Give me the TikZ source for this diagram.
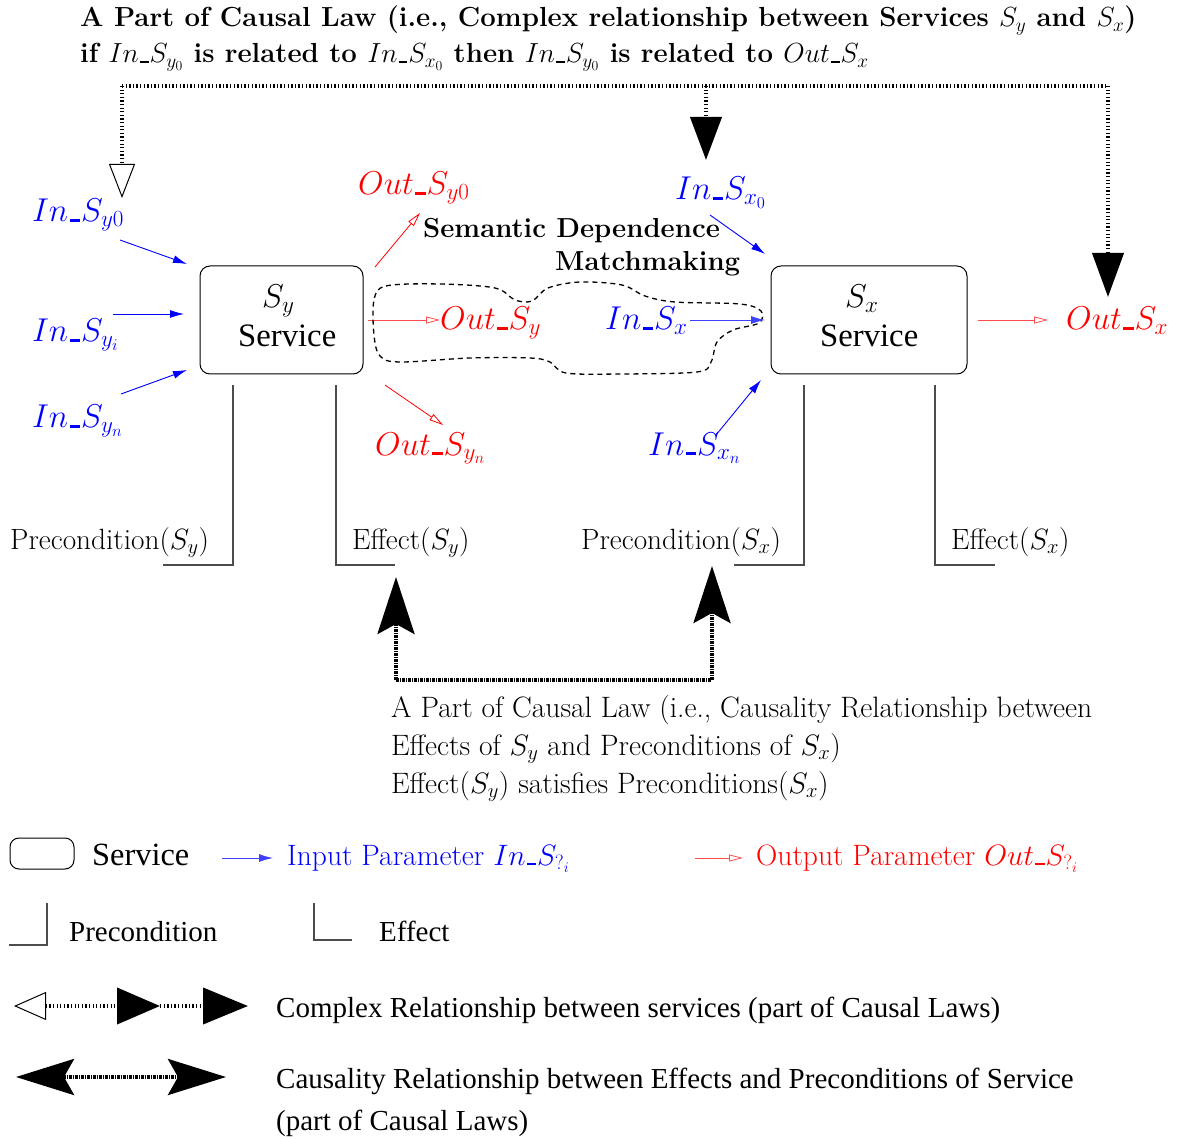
\RequirePackage{fix-cm}
\documentclass[tikz,border=0pt]{standalone}
\usepackage{fontspec}
\newfontfamily\timesf{Liberation Serif}
\usetikzlibrary{arrows.meta}
\newcommand{\setfs}[1]{\fontsize{#1}{#1}\selectfont}
\newcommand{\us}{\mbox{\kern.04em\rule{0.32em}{0.08em}\kern.03em}}
\begin{document}
\begin{tikzpicture}[x=1pt,y=-1pt,
  lbl/.style={inner sep=0pt, anchor=base west},
  inarr/.style={blue, line width=0.9pt, -{Latex[length=14pt,width=8pt]}},
  outarr/.style={red, line width=0.8pt, -{Triangle[open,length=14pt,width=7pt,line width=0.8pt]}},
  dotl/.style={line width=4pt, dash pattern=on 1.3pt off 2.3pt},
  cause/.style={line width=4pt, dash pattern=on 3pt off 1pt on 1pt off 1pt},
  pe/.style={draw=black!70, line width=1.1pt},
  svc/.style={draw, rounded corners=10pt, line width=1pt},
  opentip/.style={-{Triangle[open,length=34pt,width=26pt,line width=1pt]}},
  filltip/.style={-{Triangle[length=#1,width=31pt]}},
  stl/.style={-{Stealth[length=57pt,width=37pt,inset=10pt]}}
]
\useasboundingbox (0,0) rectangle (1178,1139);

% ---------- title ----------
\node[lbl] (title1) at (80,27) {\setfs{27.6}\bfseries A Part of Causal Law (i.e., Complex relationship between Services $S_y$ and $S_x$)};
\node[lbl] (title2) at (80,63) {\setfs{27.6}\bfseries if $In\us S_{y_0}$ is related to $In\us S_{x_0}$ then $In\us S_{y_0}$ is related to $Out\us S_x$};

% ---------- complex relationship arrows ----------
\coordinate (cl) at (122,86);
\coordinate (cm) at (706,86);
\coordinate (cr) at (1108,86);
\coordinate (clt) at (122,198);
\coordinate (cmt) at (706,160);
\coordinate (crt) at (1108,297);
\draw[dotl] (cl) -- (cr);
\draw[dotl, opentip] (cl) -- (clt);
\draw[dotl, filltip=43pt] (cm) -- (cmt);
\draw[dotl, filltip=44pt] (cr) -- (crt);

% ---------- services ----------
\node[svc, minimum width=163pt, minimum height=108pt] (Sy) at (281.5,320) {};
\node[svc, minimum width=196pt, minimum height=108pt] (Sx) at (869,320) {};
\node[lbl] (Syname) at (262,308) {\setfs{33}$S_y$};
\node[lbl] (Sylab) at (238,347) {\setfs{32.7}\timesf Service};
\node[lbl] (Sxname) at (845,308) {\setfs{33}$S_x$};
\node[lbl] (Sxlab) at (820,347) {\setfs{32.7}\timesf Service};

% ---------- inputs of Sy ----------
\node[lbl, blue] (iny0) at (32,222) {\setfs{33}$In\us S_{y0}$};
\node[lbl, blue] (inyi) at (32,342) {\setfs{33}$In\us S_{y_i}$};
\node[lbl, blue] (inyn) at (32,428) {\setfs{33}$In\us S_{y_n}$};
\coordinate (a1s) at (120,240); \coordinate (a1e) at (187,264);
\coordinate (a2s) at (113,314); \coordinate (a2e) at (184,314);
\coordinate (a3s) at (121,394); \coordinate (a3e) at (187,370);
\draw[inarr] (a1s) -- (a1e);
\draw[inarr] (a2s) -- (a2e);
\draw[inarr] (a3s) -- (a3e);

% ---------- outputs of Sy ----------
\node[lbl, red] (outy0) at (358,195) {\setfs{33}$Out\us S_{y0}$};
\node[lbl, red] (outy) at (440,330) {\setfs{33}$Out\us S_y$};
\node[lbl, red] (outyn) at (375,455) {\setfs{33}$Out\us S_{y_n}$};
\coordinate (o1s) at (375,267); \coordinate (o1e) at (420,213);
\coordinate (o2s) at (368,320); \coordinate (o2e) at (440,320);
\coordinate (o3s) at (385,385); \coordinate (o3e) at (443,425);
\draw[outarr] (o1s) -- (o1e);
\draw[outarr, red!70] (o2s) -- (o2e);
\draw[outarr] (o3s) -- (o3e);

% ---------- semantic dependence ----------
\node[lbl] (sem1) at (423,238) {\setfs{27.5}\bfseries Semantic Dependence};
\node[lbl] (sem2) at (555,271) {\setfs{27.5}\bfseries Matchmaking};
\draw[dashed, dash pattern=on 5pt off 4pt, line width=1.3pt]
  plot[smooth cycle, tension=0.55] coordinates {
  (374,300) (386,286) (440,284) (495,288) (515,300) (532,301) (548,288)
  (580,282) (622,285) (645,296) (675,302) (740,304) (761,311) (759,323)
  (733,330) (717,342) (711,362) (697,372) (620,374) (566,373) (550,362)
  (530,358) (470,358) (400,362) (380,356) (374,335)};

% ---------- inputs of Sx ----------
\node[lbl, blue] (inx0) at (675,200) {\setfs{33}$In\us S_{x_0}$};
\node[lbl, blue] (inx) at (605,330) {\setfs{33}$In\us S_x$};
\node[lbl, blue] (inxn) at (648,455) {\setfs{33}$In\us S_{x_n}$};
\coordinate (b1s) at (710,215); \coordinate (b1e) at (765,254);
\coordinate (b2s) at (690,320); \coordinate (b2e) at (765,320);
\coordinate (b3s) at (716,435); \coordinate (b3e) at (761,380);
\draw[inarr] (b1s) -- (b1e);
\draw[inarr, blue!75] (b2s) -- (b2e);
\draw[inarr] (b3s) -- (b3e);

% ---------- output of Sx ----------
\node[lbl, red] (outx) at (1066,330) {\setfs{33}$Out\us S_x$};
\coordinate (o4s) at (978,320); \coordinate (o4e) at (1048,320);
\draw[outarr, red!70] (o4s) -- (o4e);

% ---------- preconditions / effects ----------
\coordinate (py1) at (233,385); \coordinate (py2) at (233,565); \coordinate (py3) at (163,565);
\coordinate (ey1) at (336,385); \coordinate (ey2) at (336,565); \coordinate (ey3) at (395,565);
\coordinate (px1) at (804,385); \coordinate (px2) at (804,565); \coordinate (px3) at (734,565);
\coordinate (ex1) at (935,385); \coordinate (ex2) at (935,565); \coordinate (ex3) at (995,565);
\draw[pe] (py1) -- (py2) -- (py3);
\draw[pe] (ey1) -- (ey2) -- (ey3);
\draw[pe] (px1) -- (px2) -- (px3);
\draw[pe] (ex1) -- (ex2) -- (ex3);
\node[lbl] (prey) at (10,549) {\setfs{29.3}Precondition($S_y$)};
\node[lbl] (effy) at (352,549) {\setfs{29.3}Effect($S_y$)};
\node[lbl] (prex) at (581,549) {\setfs{29.3}Precondition($S_x$)};
\node[lbl] (effx) at (951,549) {\setfs{29.3}Effect($S_x$)};

% ---------- causality arrows ----------
\coordinate (ca1) at (396,680); \coordinate (ca2) at (712,680);
\coordinate (cat1) at (396,577); \coordinate (cat2) at (712,566);
\draw[cause] (ca1) -- (ca2);
\draw[cause, stl] (ca1) -- (cat1);
\draw[cause, stl] (ca2) -- (cat2);
\node[lbl] (cl1) at (391,717) {\setfs{29.5}A Part of Causal Law (i.e., Causality Relationship between};
\node[lbl] (cl2) at (391,755) {\setfs{29.5}Effects of $S_y$ and Preconditions of $S_x$)};
\node[lbl] (cl3) at (391,793) {\setfs{29.5}Effect($S_y$) satisfies Preconditions($S_x$)};

% ---------- legend ----------
\node[svc, rounded corners=9pt, minimum width=64pt, minimum height=31pt] (lsvc) at (42,853.5) {};
\node[lbl] (lsvct) at (92,865) {\setfs{32.4}\timesf Service};
\coordinate (lis) at (222,858); \coordinate (lie) at (273,858);
\draw[inarr, blue!75] (lis) -- (lie);
\node[lbl, blue] (lint) at (287,865) {\setfs{29.5}Input Parameter $In\us S_{?_i}$};
\coordinate (los) at (695,858); \coordinate (loe) at (743,858);
\draw[outarr, red!70] (los) -- (loe);
\node[lbl, red] (loutt) at (756,865) {\setfs{29.5}Output Parameter $Out\us S_{?_i}$};

\coordinate (lp1) at (47,903); \coordinate (lp2) at (47,945); \coordinate (lp3) at (9,945);
\draw[pe] (lp1) -- (lp2) -- (lp3);
\node[lbl] (lpt) at (69,941) {\setfs{29}\timesf Precondition};
\coordinate (le1) at (314,903); \coordinate (le2) at (314,940); \coordinate (le3) at (352,940);
\draw[pe] (le1) -- (le2) -- (le3);
\node[lbl] (let) at (379,941) {\setfs{29}\timesf Effect};

\coordinate (lc1) at (46,1006); \coordinate (lc0) at (14,1006);
\coordinate (lc2) at (160,1006); \coordinate (lc3) at (248,1006);
\draw[dotl, {Triangle[open,length=32pt,width=28pt,line width=1pt]}-{Triangle[length=43pt,width=36pt]}] (lc0) -- (lc2);
\draw[dotl, -{Triangle[length=45pt,width=36pt]}] (lc2) -- (lc3);
\node[lbl] (lct) at (276,1017) {\setfs{29}\timesf Complex Relationship between services (part of Causal Laws)};

\coordinate (lk1) at (16,1077); \coordinate (lk2) at (226,1077);
\draw[cause, {Stealth[length=58pt,width=36pt,inset=10pt]}-{Stealth[length=58pt,width=36pt,inset=10pt]}] (lk1) -- (lk2);
\node[lbl] (lkt1) at (276,1088) {\setfs{29}\timesf Causality Relationship between Effects and Preconditions of Service};
\node[lbl] (lkt2) at (276,1130) {\setfs{29}\timesf (part of Causal Laws)};
\end{tikzpicture}
\end{document}
